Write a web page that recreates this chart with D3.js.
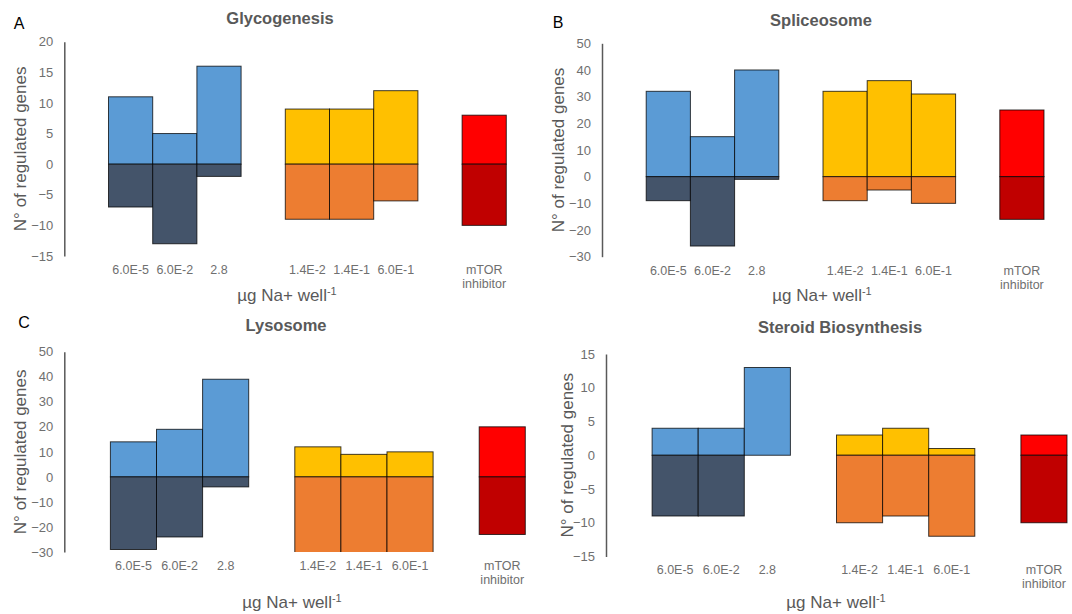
<!DOCTYPE html>
<html lang="en">
<head>
  <meta charset="UTF-8">
  <title>Regulated genes</title>
  <style>
    body { margin: 0; background: #fff; }
    text { font-family: "Liberation Sans", Arial, sans-serif; }
  </style>
</head>
<body>
  <script src="https://cdn.jsdelivr.net/npm/d3@7"></script>
  <script>
// categories (doses + mTOR inhibitor)
const categories = ['6.0E-5', '6.0E-2', '2.8', '1.4E-2', '1.4E-1', '6.0E-1', 'mTOR inhibitor'];

// up / down regulated genes per panel
const glycoUp     = [11, 5, 16, 9, 9, 12, 8];
const glycoDown   = [-7, -13, -2, -9, -9, -6, -10];
const spliceUp    = [32, 15, 40, 32, 36, 31, 25];
const spliceDown  = [-9, -26, -1, -9, -5, -10, -16];
const lysoUp      = [14, 19, 39, 12, 9, 10, 20];
const lysoDown    = [-29, -24, -4, -31, -31, -31, -23];
const steroidUp   = [4, 4, 13, 3, 4, 1, 3];
const steroidDown = [-9, -9, 0, -10, -9, -12, -10];

// y tick labels
const glycoTicks   = [20, 15, 10, 5, 0, -5, -10, -15];
const spliceTicks  = [50, 40, 30, 20, 10, 0, -10, -20, -30];
const lysoTicks    = [50, 40, 30, 20, 10, 0, -10, -20, -30];
const steroidTicks = [15, 10, 5, 0, -5, -10, -15];

// colours: [up, down] for the three groups
const upColors   = ['#5B9BD5', '#5B9BD5', '#5B9BD5', '#FFC000', '#FFC000', '#FFC000', '#FF0000'];
const downColors = ['#44546A', '#44546A', '#44546A', '#ED7D31', '#ED7D31', '#ED7D31', '#C00000'];

// slots on the x scale: empty slot, 3 doses, gap, 3 doses, gap, mTOR
const slots = ['_0', categories[0], categories[1], categories[2], '_1',
               categories[3], categories[4], categories[5], '_2', categories[6]];

const width = 1072, height = 614;
const svg = d3.select('body').append('svg')
  .attr('width', width)
  .attr('height', height);

const panels = [
  { id: 'a', title: 'Glycogenesis', letter: 'A', up: glycoUp, down: glycoDown, ticks: glycoTicks,
    x0: 64.3, yTop: 41.7, yBot: 256, step: 44.2,
    titleX: 280, titleY: 18, letterX: 19, letterY: 23, yTitleX: 20, xTitleX: 287, xTitleY: 295 },
  { id: 'b', title: 'Spliceosome', letter: 'B', up: spliceUp, down: spliceDown, ticks: spliceTicks,
    x0: 602, yTop: 43.3, yBot: 256.7, step: 44.2,
    titleX: 821, titleY: 20, letterX: 558, letterY: 22, yTitleX: 558, xTitleX: 822, xTitleY: 295 },
  { id: 'c', title: 'Lysosome', letter: 'C', up: lysoUp, down: lysoDown, ticks: lysoTicks,
    x0: 64.3, yTop: 351.7, yBot: 552, step: 46.1,
    titleX: 286, titleY: 325, letterX: 24, letterY: 322, yTitleX: 20, xTitleX: 292, xTitleY: 602 },
  { id: 'd', title: 'Steroid Biosynthesis', letter: '', up: steroidUp, down: steroidDown, ticks: steroidTicks,
    x0: 606, yTop: 354, yBot: 556.5, step: 46.1,
    titleX: 840, titleY: 327, letterX: 0, letterY: 0, yTitleX: 567, xTitleX: 836, xTitleY: 602 }
];

panels.forEach(p => {
  const g = svg.append('g');

  const x = d3.scaleBand()
    .domain(slots)
    .range([p.x0, p.x0 + p.step * slots.length])
    .padding(0);

  const y = d3.scaleLinear()
    .domain([d3.max(p.ticks), d3.min(p.ticks)])
    .range([p.yTop, p.yBot]);

  // clip bars to the plot area
  g.append('clipPath').attr('id', 'clip-' + p.id)
    .append('rect')
    .attr('x', p.x0).attr('y', p.yTop - 2)
    .attr('width', p.step * slots.length + 4)
    .attr('height', p.yBot - p.yTop + 2);

  const bars = g.append('g').attr('clip-path', `url(#clip-${p.id})`);
  const rows = categories.map((c, i) => ({ c, i, up: p.up[i], down: p.down[i] }));

  bars.selectAll('.up')
    .data(rows)
    .enter()
    .append('rect')
    .attr('class', 'up')
    .attr('x', d => x(d.c))
    .attr('width', x.bandwidth())
    .attr('y', d => y(d.up))
    .attr('height', d => y(0) - y(d.up))
    .attr('fill', d => upColors[d.i])
    .attr('stroke', 'rgba(0,0,0,0.75)')
    .attr('stroke-width', 1);

  bars.selectAll('.down')
    .data(rows.filter(d => d.down < 0))
    .enter()
    .append('rect')
    .attr('class', 'down')
    .attr('x', d => x(d.c))
    .attr('width', x.bandwidth())
    .attr('y', y(0))
    .attr('height', d => y(d.down) - y(0))
    .attr('fill', d => downColors[d.i])
    .attr('stroke', 'rgba(0,0,0,0.75)')
    .attr('stroke-width', 1);

  // y axis
  const yAxis = g.append('g')
    .attr('transform', `translate(${p.x0}, 0)`)
    .call(d3.axisLeft(y).tickValues(p.ticks).tickSize(0).tickPadding(11).tickFormat(d3.format('d')));
  yAxis.select('.domain').attr('stroke', '#595959').attr('stroke-width', 1.5);
  yAxis.selectAll('text')
    .attr('fill', '#6f6f6f')
    .style('font-size', '13px')
    .style('font-family', '"Liberation Sans", Arial, sans-serif');

  // x labels (no axis line)
  const xAxis = g.append('g')
    .attr('transform', `translate(0, ${p.yBot})`)
    .call(d3.axisBottom(x).tickValues(categories).tickSize(0).tickPadding(9));
  xAxis.select('.domain').remove();
  xAxis.selectAll('text')
    .attr('fill', '#6f6f6f')
    .style('font-size', '12.5px')
    .style('font-family', '"Liberation Sans", Arial, sans-serif')
    .each(function (d) {
      if (d.indexOf(' ') > 0) {
        const t = d3.select(this);
        const words = d.split(' ');
        t.text(null);
        words.forEach((w, k) => {
          t.append('tspan').attr('x', 0).attr('dy', k === 0 ? '0.71em' : '1.12em').text(w);
        });
        t.attr('dy', null);
      }
    });

  // title
  g.append('text')
    .attr('x', p.titleX).attr('y', p.titleY).attr('dy', '0.35em')
    .attr('text-anchor', 'middle')
    .attr('fill', '#595959')
    .style('font-size', '16.5px')
    .style('font-weight', 'bold')
    .text(p.title);

  // panel letter
  if (p.letter) {
    g.append('text')
      .attr('x', p.letterX).attr('y', p.letterY).attr('dy', '0.35em')
      .attr('text-anchor', 'middle')
      .attr('fill', '#000')
      .style('font-size', '16px')
      .text(p.letter);
  }

  // y title
  g.append('text')
    .attr('transform', `translate(${p.yTitleX}, ${(p.yTop + p.yBot) / 2}) rotate(-90)`)
    .attr('dy', '0.35em')
    .attr('text-anchor', 'middle')
    .attr('fill', '#595959')
    .style('font-size', '17px')
    .text('N° of regulated genes');

  // x title with superscript
  const xt = g.append('text')
    .attr('x', p.xTitleX).attr('y', p.xTitleY).attr('dy', '0.35em')
    .attr('text-anchor', 'middle')
    .attr('fill', '#595959')
    .style('font-size', '17px');
  xt.append('tspan').text('µg Na+ well');
  xt.append('tspan').attr('dy', '-0.5em').style('font-size', '11px').text('-1');
});
  </script>
</body>
</html>
